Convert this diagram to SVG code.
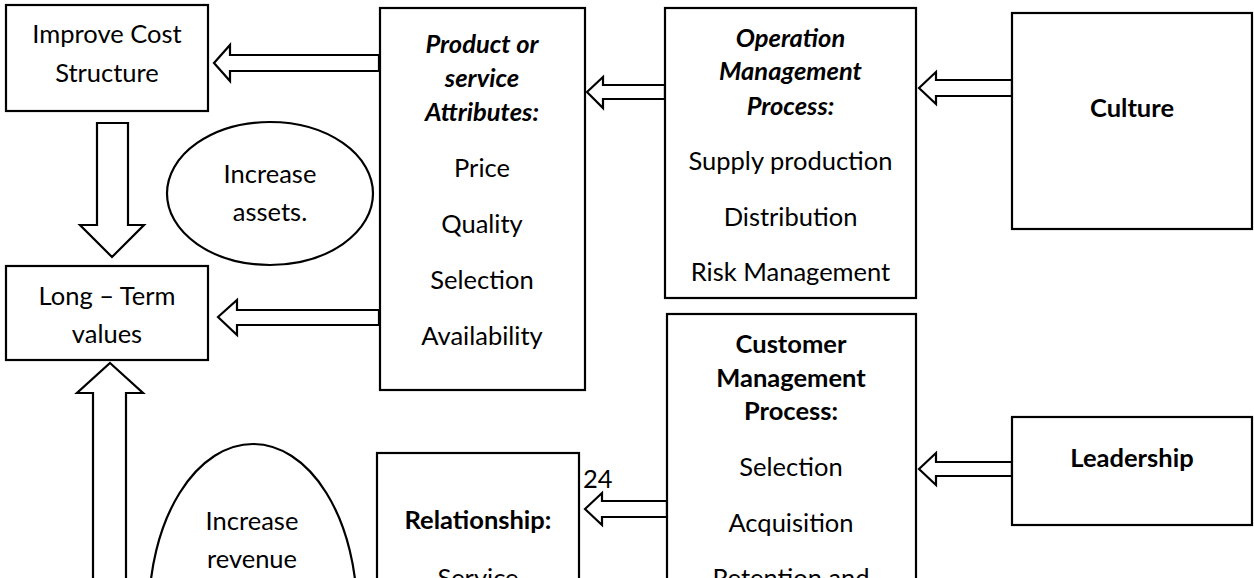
<svg xmlns="http://www.w3.org/2000/svg" width="1254" height="578" viewBox="0 0 1254 578">
<style>
.box{fill:#fff;stroke:#000;stroke-width:2.2}
.arr{fill:#fff;stroke:#000;stroke-width:2.2;stroke-linejoin:miter}
text{font-family:Lato,"Open Sans","Liberation Sans",sans-serif;font-size:25.5px;fill:#000;text-anchor:middle}
.b{font-weight:bold}
.bi{font-weight:bold;font-style:italic}
.lab{text-anchor:start}
</style>
<rect width="1254" height="578" fill="#fff"/>
<g id="connectors">
<polygon class="arr" points="214,63 230,45 230,55 379,55 379,71 230,71 230,81"/>
<polygon class="arr" points="587,92 603,77 603,85 665,85 665,99 603,99 603,108"/>
<polygon class="arr" points="919,88 936,72 936,80 1012,80 1012,96 936,96 936,104"/>
<polygon class="arr" points="218,317 237,300 237,310 379,310 379,325 237,325 237,335"/>
<polygon class="arr" points="97,123 128,123 128,225 144,225 112,257 80,225 97,225"/>
<polygon class="arr" points="110,363 143,393 126,393 126,590 93,590 93,393 77,393"/>
<polygon class="arr" points="585,509 602,493 602,501 667,501 667,517 602,517 602,525"/>
<polygon class="arr" points="919,469 936,453 936,462 1012,462 1012,476 936,476 936,485"/>
</g>
<g id="improve">
<rect class="box" x="6" y="5" width="202" height="106"/>
<text x="107" y="43">Improve Cost</text>
<text x="107" y="82">Structure</text>
</g>
<g id="product">
<rect class="box" x="380" y="8" width="205" height="382"/>
<text class="bi" x="482" y="53">Product or</text>
<text class="bi" x="482" y="87">service</text>
<text class="bi" x="482" y="121">Attributes:</text>
<text x="482" y="177">Price</text>
<text x="482" y="233">Quality</text>
<text x="482" y="289">Selection</text>
<text x="482" y="345">Availability</text>
</g>
<g id="operation">
<rect class="box" x="665" y="8" width="251" height="290"/>
<text class="bi" x="790.5" y="47">Operation</text>
<text class="bi" x="790.5" y="80">Management</text>
<text class="bi" x="790.5" y="115">Process:</text>
<text x="790.5" y="170">Supply production</text>
<text x="790.5" y="226">Distribution</text>
<text x="790.5" y="281">Risk Management</text>
</g>
<g id="culture">
<rect class="box" x="1012" y="13" width="240" height="216"/>
<text class="b" x="1132" y="117">Culture</text>
</g>
<g id="longterm">
<rect class="box" x="6" y="266" width="202" height="94"/>
<text x="107" y="305">Long – Term</text>
<text x="107" y="343">values</text>
</g>
<g id="assets">
<ellipse class="box" cx="270" cy="193.5" rx="103" ry="71.5"/>
<text x="270" y="183">Increase</text>
<text x="270" y="221">assets.</text>
</g>
<g id="revenue">
<ellipse class="box" cx="253" cy="612" rx="104" ry="168"/>
<text x="252" y="530">Increase</text>
<text x="252" y="568">revenue</text>
</g>
<g id="relationship">
<rect class="box" x="377" y="453" width="202" height="200"/>
<text class="b" x="478" y="529">Relationship:</text>
<text x="478" y="587">Service</text>
</g>
<g id="customer">
<rect class="box" x="667" y="314" width="249" height="300"/>
<text class="b" x="791" y="353">Customer</text>
<text class="b" x="791" y="387">Management</text>
<text class="b" x="791" y="420">Process:</text>
<text x="791" y="476">Selection</text>
<text x="791" y="532">Acquisition</text>
<text x="791" y="587">Retention and</text>
</g>
<g id="leadership">
<rect class="box" x="1012" y="417" width="240" height="108"/>
<text class="b" x="1132" y="467">Leadership</text>
</g>
<text class="lab" x="583" y="488">24</text>
</svg>
